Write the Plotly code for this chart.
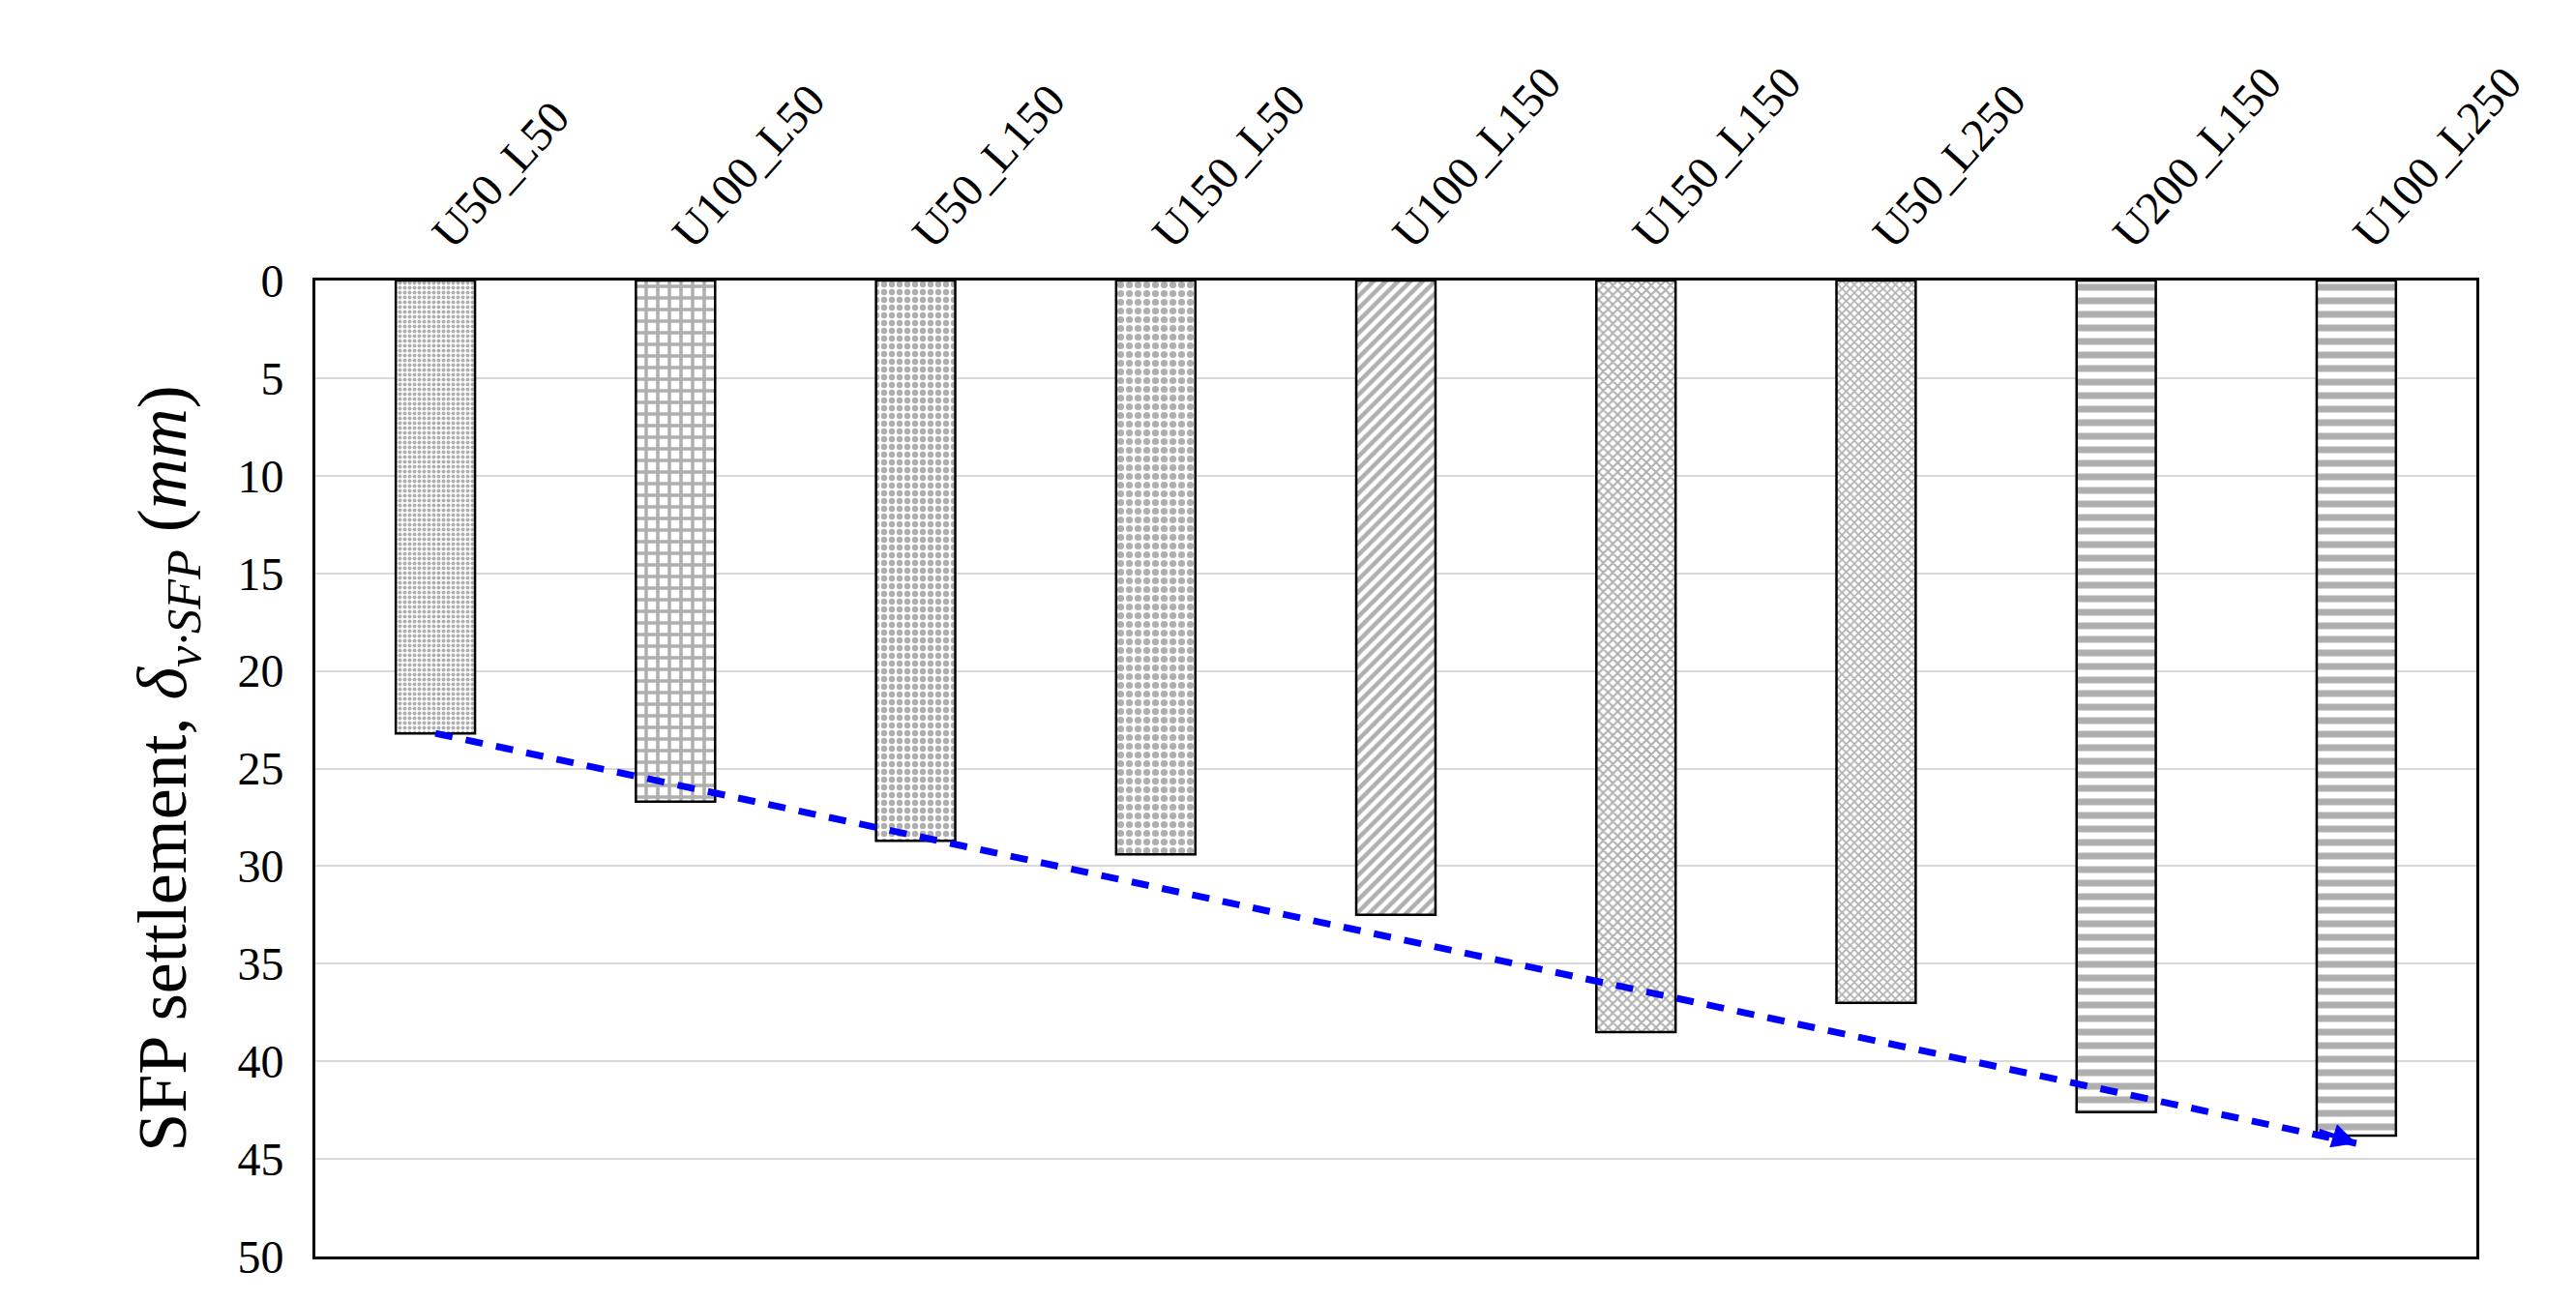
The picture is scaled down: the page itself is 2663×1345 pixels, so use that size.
import plotly.graph_objects as go

# bar data
cases = ["U50_L50", "U100_L50", "U50_L150", "U150_L50", "U100_L150",
         "U150_L150", "U50_L250", "U200_L150", "U100_L250"]
settlement = [23.2, 26.7, 28.7, 29.4, 32.5, 38.5, 37.0, 42.6, 43.8]
patterns = [".", "+", ".", ".", "/", "x", "x", "-", "-"]
pattern_sizes = [5, 12, 8, 9, 9, 7, 6, 14, 14]

# trend arrow end points (first and last case)
trend_x = [cases[0], cases[-1]]
trend_y = [23.2, 44.2]

serif = "Liberation Serif"

fig = go.Figure()
fig.add_trace(go.Bar(
    x=cases, y=settlement, width=0.33,
    marker=dict(color="white", line=dict(color="black", width=2.5),
                pattern=dict(shape=patterns, size=pattern_sizes,
                             fgcolor="#606060", bgcolor="white", solidity=0.5)),
    showlegend=False,
))
fig.add_trace(go.Scatter(
    x=trend_x, y=trend_y, mode="lines",
    line=dict(color="#0000ff", width=7, dash="18px,14px"), showlegend=False,
))
# arrow head
fig.add_annotation(x=trend_x[1], y=trend_y[1], ax=-40, ay=-13,
                   xref="x", yref="y", showarrow=True, arrowhead=2,
                   arrowsize=1, arrowwidth=5, arrowcolor="#0000ff", text="")

fig.update_layout(
    width=2663, height=1345,
    margin=dict(l=318, r=111, t=282, b=54),
    plot_bgcolor="white", paper_bgcolor="white",
    font=dict(family=serif, size=48, color="black"),
)
fig.update_xaxes(side="top", tickangle=-48, tickfont=dict(size=48),
                 showline=True, mirror=True, linecolor="black", linewidth=3,
                 ticks="")
fig.update_yaxes(range=[50, 0], dtick=5, tickfont=dict(size=48),
                 showgrid=True, gridcolor="#d9d9d9", gridwidth=2,
                 showline=True, mirror=True, linecolor="black", linewidth=3,
                 zeroline=False, ticks="", ticklabelstandoff=20,
                 title=dict(text="SFP settlement, <i>δ<sub>v·SFP</sub></i> (<i>mm</i>)",
                            font=dict(size=72), standoff=30))

fig.write_html("out.html")
